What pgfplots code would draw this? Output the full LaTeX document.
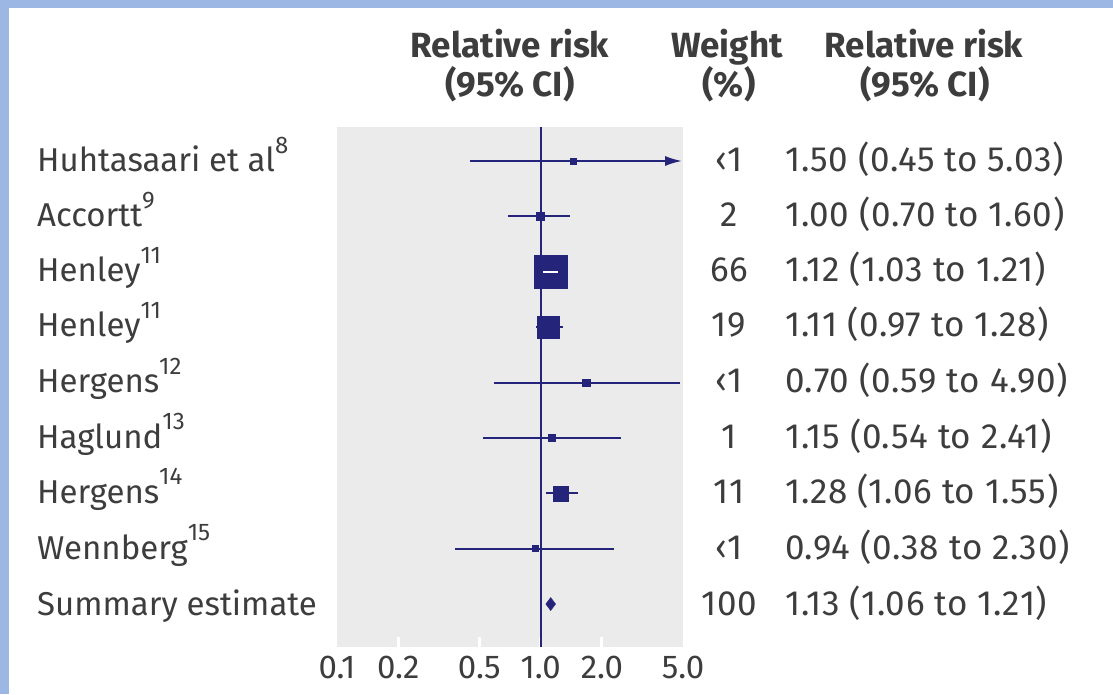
\documentclass[border=0pt]{standalone}
\usepackage{fontspec}
\setmainfont{Fira Sans}
\usepackage{pgfplots}
\pgfplotsset{compat=1.18}
\usetikzlibrary{arrows.meta}
\definecolor{navy}{HTML}{24247A}
\definecolor{panelgray}{HTML}{EBEBEB}
\definecolor{txt}{HTML}{3D3D3D}
\definecolor{bordercol}{HTML}{9DB7E5}
\newcommand{\bodyfont}{\fontsize{33}{40}\selectfont}
\newcommand{\numfont}{\fontsize{35}{42}\selectfont\addfontfeature{LetterSpace=2}}
\newcommand{\headfont}{\fontsize{35}{42}\selectfont\bfseries}
\newcommand{\refsup}[1]{\raisebox{0.55em}{\fontsize{24}{28}\selectfont #1}}
\begin{document}
\begin{tikzpicture}[x=1pt,y=1pt]
\fill[bordercol] (0,0) rectangle (1113,694);
\fill[white] (9,0) rectangle (1113,686);
\begin{axis}[
  at={(337pt,47pt)}, anchor=south west,
  scale only axis, width=346pt, height=520pt,
  xmode=log, xmin=0.1, xmax=5, ymin=0.224, ymax=9.614,
  axis background/.style={fill=panelgray},
  axis line style={draw=none},
  ytick=\empty,
  xtick={0.2,0.5,1,2}, xticklabels={0.2,0.5,1.0,2.0},
  extra x ticks={0.1,5}, extra x tick labels={0.1,5.0},
  extra x tick style={major tick length=0pt},
  xtick pos=bottom, tick align=inside, major tick length=10pt,
  xtick style={white, line width=3pt},
  xticklabel style={text=txt, font=\bodyfont, anchor=base, yshift=-31pt},
  clip=true, clip marker paths=true,
]
% reference line
\addplot[navy, line width=2pt] coordinates {(1,0.224) (1,9.614)};
% Huhtasaari
\addplot[navy, line width=2pt, -{Latex[length=17pt,width=10pt]}] coordinates {(0.45,9) (4.95,9)};
\addplot[only marks, mark=square*, mark size=3pt, mark options={fill=navy, draw=navy}] coordinates {(1.45,9)};
% Accortt
\addplot[navy, line width=2pt] coordinates {(0.69,8) (1.40,8)};
\addplot[only marks, mark=square*, mark size=4pt, mark options={fill=navy, draw=navy}] coordinates {(1.0,8)};
% Henley 66
\addplot[only marks, mark=square*, mark size=16.5pt, mark options={fill=navy, draw=navy}] coordinates {(1.12,7)};
\addplot[white, line width=2.5pt] coordinates {(1.03,7) (1.21,7)};
% Henley 19
\addplot[navy, line width=2pt] coordinates {(0.95,6) (1.29,6)};
\addplot[only marks, mark=square*, mark size=11pt, mark options={fill=navy, draw=navy}] coordinates {(1.09,6)};
% Hergens 12
\addplot[navy, line width=2pt] coordinates {(0.59,5) (4.85,5)};
\addplot[only marks, mark=square*, mark size=3.7pt, mark options={fill=navy, draw=navy}] coordinates {(1.67,5)};
% Haglund
\addplot[navy, line width=2pt] coordinates {(0.52,4) (2.47,4)};
\addplot[only marks, mark=square*, mark size=3.4pt, mark options={fill=navy, draw=navy}] coordinates {(1.13,4)};
% Hergens 14
\addplot[navy, line width=2pt] coordinates {(1.06,3) (1.53,3)};
\addplot[only marks, mark=square*, mark size=7.5pt, mark options={fill=navy, draw=navy}] coordinates {(1.25,3)};
% Wennberg
\addplot[navy, line width=2pt] coordinates {(0.38,2) (2.28,2)};
\addplot[only marks, mark=square*, mark size=3pt, mark options={fill=navy, draw=navy}] coordinates {(0.94,2)};
% Summary
\addplot[only marks, mark=diamond*, mark size=6.5pt, mark options={fill=navy, draw=navy}] coordinates {(1.12,1)};
\end{axis}
% headers
\begin{scope}[every node/.style={text=txt, font=\headfont, inner sep=0pt, anchor=base}]
\node at (510,636) {Relative risk};
\node at (510,597) {(95\% CI)};
\node at (727,636) {Weight};
\node at (729,597) {(\%)};
\node at (924,636) {Relative risk};
\node at (925,597) {(95\% CI)};
\end{scope}
% study labels
\begin{scope}[every node/.style={text=txt, font=\bodyfont, inner sep=0pt, anchor=base west}]
\node at (37,522) {Huhtasaari et al\refsup{8}};
\node at (37,467) {Accortt\refsup{9}};
\node at (37,412) {Henley\refsup{11}};
\node at (37,357) {Henley\refsup{11}};
\node at (37,301) {Hergens\refsup{12}};
\node at (37,246) {Haglund\refsup{13}};
\node at (37,191) {Hergens\refsup{14}};
\node at (37,135) {Wennberg\refsup{15}};
\node at (37,79) {Summary estimate};
\end{scope}
\begin{scope}[every node/.style={text=txt, font=\numfont, inner sep=0pt, anchor=base}]
\node at (729,522) {‹1};
\node at (729,467) {2};
\node at (729,412) {66};
\node at (729,357) {19};
\node at (729,301) {‹1};
\node at (729,246) {1};
\node at (729,191) {11};
\node at (729,135) {‹1};
\node at (729,79) {100};
\end{scope}
\begin{scope}[every node/.style={text=txt, font=\numfont, inner sep=0pt, anchor=base west}]
\node at (785,522) {1.50 (0.45 to 5.03)};
\node at (785,467) {1.00 (0.70 to 1.60)};
\node at (785,412) {1.12 (1.03 to 1.21)};
\node at (785,357) {1.11 (0.97 to 1.28)};
\node at (785,301) {0.70 (0.59 to 4.90)};
\node at (785,246) {1.15 (0.54 to 2.41)};
\node at (785,191) {1.28 (1.06 to 1.55)};
\node at (785,135) {0.94 (0.38 to 2.30)};
\node at (785,79) {1.13 (1.06 to 1.21)};
\end{scope}
\end{tikzpicture}
\end{document}
